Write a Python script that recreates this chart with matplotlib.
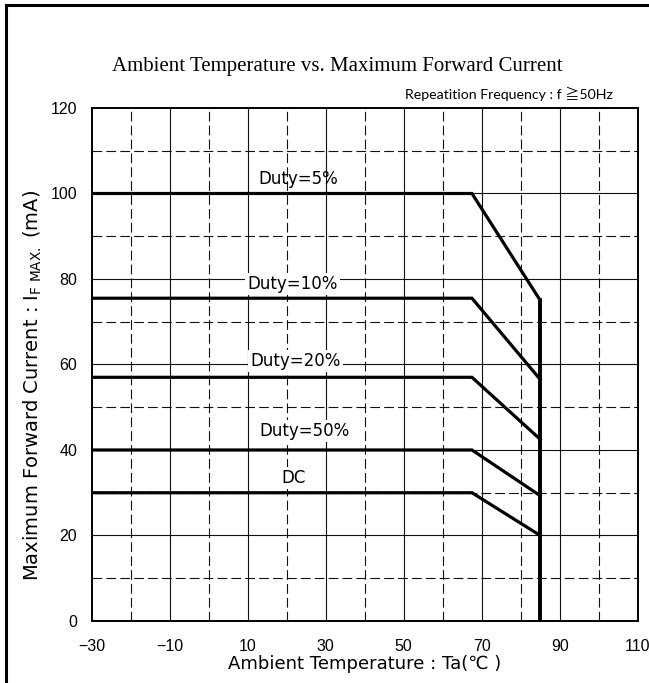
import matplotlib
matplotlib.use('Agg')
import matplotlib.pyplot as plt
from matplotlib.lines import Line2D

# Derating curves: flat current up to the knee, then linear down to Ta max
series_labels = ['Duty=5%', 'Duty=10%', 'Duty=20%', 'Duty=50%', 'DC']
current_flat = [100, 75.5, 57, 40, 30]
current_end = [75, 56.5, 42.5, 29.3, 20]
temp_start = -30
temp_knee = 67.5
temp_max = 85

# Label anchor points (Ta, mA)
label_x = [22.9, 21.5, 22.3, 24.6, 21.7]
label_y = [103.4, 78.8, 60.8, 44.5, 33.5]
label_boxed = [False, True, True, True, True]

x_ticks = list(range(-30, 111, 20))
y_ticks = list(range(0, 121, 20))
x_minor = list(range(-20, 101, 20))
y_minor = list(range(10, 111, 20))

plt.rcParams['lines.scale_dashes'] = False
sans = ['DejaVu Sans']

fig = plt.figure(figsize=(6.49, 6.83), dpi=100)
ax = fig.add_axes([0.1413, 0.0908, 0.8413, 0.7511])
ax.set_xlim(-30, 110)
ax.set_ylim(0, 120)

# grid: solid on labelled ticks, dashed half-way between
for x in x_ticks[1:-1]:
    ax.axvline(x, color='#111111', lw=0.8, zorder=1)
for y in y_ticks[1:-1]:
    ax.axhline(y, color='#111111', lw=0.8, zorder=1)
for x in x_minor:
    ax.axvline(x, color='#111111', lw=0.8, dashes=(7, 3), zorder=1)
for y in y_minor:
    ax.axhline(y, color='#111111', lw=0.8, dashes=(7, 3), zorder=1)

for flat, end in zip(current_flat, current_end):
    ax.plot([temp_start, temp_knee, temp_max], [flat, flat, end],
            color='black', lw=2.3, solid_joinstyle='miter', zorder=3)
ax.plot([temp_max, temp_max], [current_end[0], 0], color='black', lw=2.8, zorder=3)

for text, lx, ly, boxed in zip(series_labels, label_x, label_y, label_boxed):
    bbox = dict(facecolor='white', edgecolor='none', pad=1.5) if boxed else None
    ax.text(lx, ly, text, ha='center', va='center', fontsize=12,
            family='DejaVu Sans', bbox=bbox, zorder=2)

ax.set_xticks(x_ticks)
ax.set_yticks(y_ticks)
ax.set_xticklabels(['\u2212' + str(-t) if t < 0 else str(t) for t in x_ticks])
ax.tick_params(length=0, labelsize=11.5)
ax.tick_params(axis='x', pad=13)
ax.tick_params(axis='y', pad=10.5)
for lab in ax.get_xticklabels() + ax.get_yticklabels():
    lab.set_family('Liberation Sans')
for side in ax.spines.values():
    side.set_linewidth(1.4)

ax.set_xlabel('Ambient Temperature : Ta(\u2103 )', fontsize=13, family=sans)
ax.set_ylabel(r'Maximum Forward Current : I$\mathregular{_{F\ MAX.}}$ (mA)',
              fontsize=14, family=sans)
ax.xaxis.set_label_coords(0.5, -0.067)
ax.yaxis.set_label_coords(-0.088, 0.46)

fig.text(0.52, 0.903, 'Ambient Temperature vs. Maximum Forward Current',
         ha='center', va='center', fontsize=15, family='Liberation Serif')
fig.text(0.945, 0.863, 'Repeatition Frequency : f \u226750Hz',
         ha='right', va='center', fontsize=10.2, family=['Lato', 'Noto Sans CJK JP'])

# outer frame, open to the right and bottom
fig.add_artist(Line2D([6 / 649, 6 / 649], [-0.1, 1 - 5 / 683], color='black', lw=2.2,
                      transform=fig.transFigure))
fig.add_artist(Line2D([6 / 649, 1.1], [1 - 5 / 683, 1 - 5 / 683], color='black', lw=2.2,
                      transform=fig.transFigure))

fig.savefig('out.png', dpi=100)
